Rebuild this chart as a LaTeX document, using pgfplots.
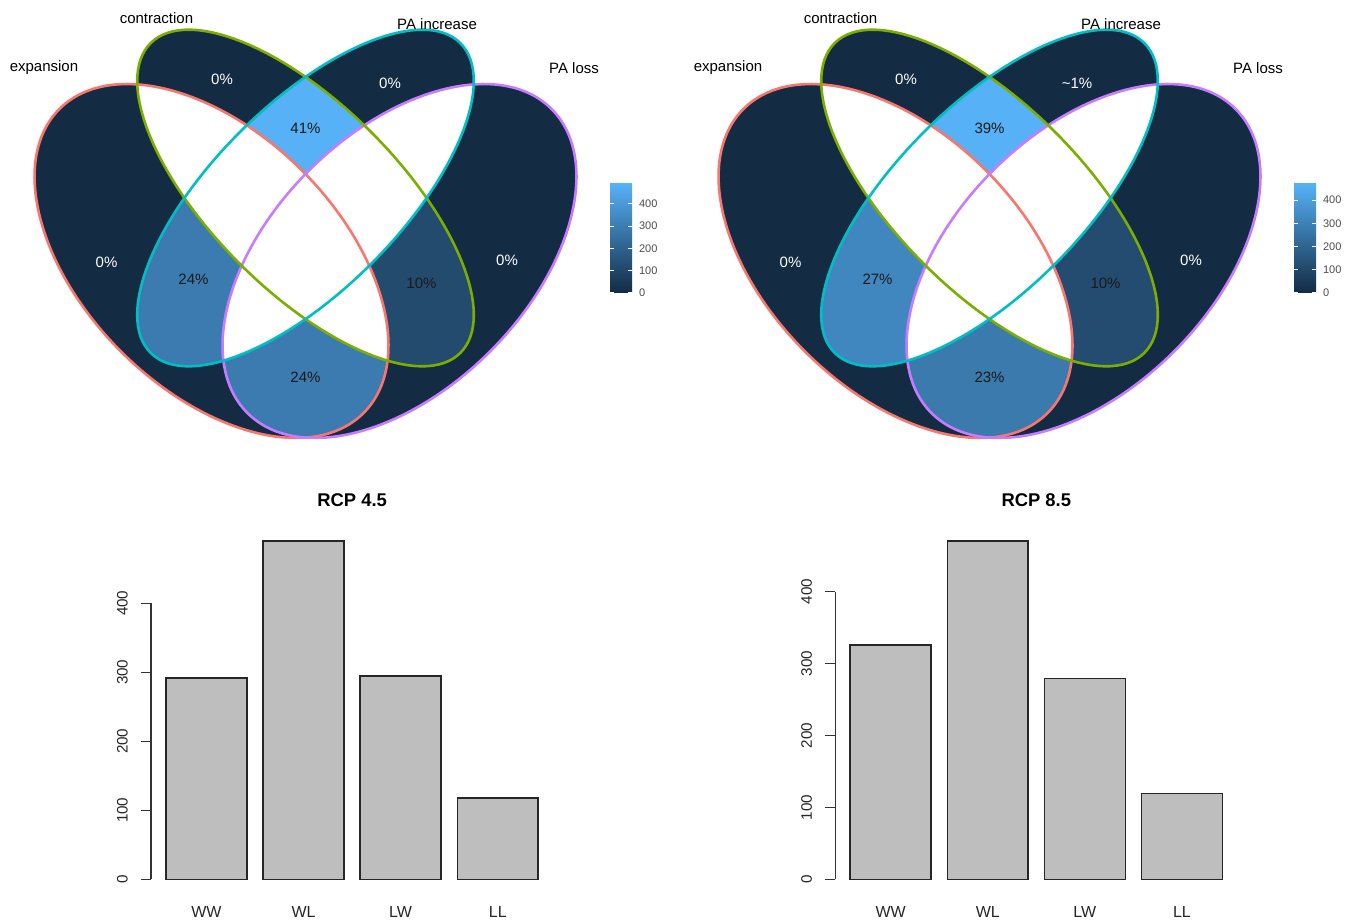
\documentclass[border=0pt]{standalone}
\usepackage{fontspec}
\setmainfont{Liberation Sans}
\usepackage{pgfplots}
\pgfplotsset{compat=1.18}
\usepackage{pgfplotstable}

\definecolor{vlow}{HTML}{132B43}
\definecolor{vhigh}{HTML}{56B1F7}
\definecolor{cexp}{HTML}{F8766D}
\definecolor{ccon}{HTML}{7CAE00}
\definecolor{cinc}{HTML}{00BFC4}
\definecolor{closs}{HTML}{C77CFF}
\definecolor{bargray}{HTML}{BEBEBE}
\definecolor{txt}{HTML}{1A1A1A}

% counts of the four combined categories (RCP 4.5 and RCP 8.5)
\pgfplotstableread{
x cat y
0.7 WW 292
1.9 WL 490
3.1 LW 295
4.3 LL 118
}\rcpA
\pgfplotstableread{
x cat y
0.7 WW 326
1.9 WL 470
3.1 LW 279
4.3 LL 119
}\rcpB

% region colours: count / maximum on the ggplot gradient
\colorlet{LWW}{vhigh!60!vlow}  % 292/490
\colorlet{LWL}{vhigh!100!vlow} % 490/490
\colorlet{LLW}{vhigh!60!vlow}  % 295/490
\colorlet{LLL}{vhigh!24!vlow}  % 118/490
\colorlet{RWW}{vhigh!69!vlow}  % 326/470
\colorlet{RWL}{vhigh!100!vlow} % 470/470
\colorlet{RLW}{vhigh!59!vlow}  % 279/470
\colorlet{RLL}{vhigh!25!vlow}  % 119/470

% ellipses (pixel coordinates of the canvas axis)
\newcommand\EA[1]{[rotate around={-45:(#1,261)}] (#1,261) ellipse [x radius=107.5pt, y radius=64pt]}
\newcommand\ED[1]{[rotate around={45:(#1,261)}] (#1,261) ellipse [x radius=107.5pt, y radius=64pt]}
\newcommand\EB[1]{[rotate around={-45:(#1,198)}] (#1,198) ellipse [x radius=109.5pt, y radius=46.5pt]}
\newcommand\EC[1]{[rotate around={45:(#1,198)}] (#1,198) ellipse [x radius=109.5pt, y radius=46.5pt]}

\newcommand\vl{\fontsize{7.5pt}{9pt}\selectfont}

\pgfplotsset{
  rbar/.style={
    scale only axis, width=201pt, height=182.55pt,
    xmin=0.016, xmax=4.984,
    axis line style={draw=none},
    xtick={0.7,1.9,3.1,4.3}, xticklabels={WW,WL,LW,LL},
    xtick style={draw=none},
    xticklabel style={font=\fontsize{8pt}{9pt}\selectfont, text=black!85, anchor=base, yshift=-7.4pt},
    ytick={0,100,200,300,400},
    ytick pos=left, xtick pos=bottom,
    tick align=outside, major tick length=5pt,
    ytick style={black!80, line width=0.75pt},
    yticklabel style={font=\fontsize{7.6pt}{9pt}\selectfont, text=black!85, rotate=90, anchor=south, inner sep=0pt, yshift=6.5pt},
    /pgf/number format/assume math mode=true,
    title style={font=\bfseries\fontsize{9.2pt}{11pt}\selectfont, at={(0.5,1)}, anchor=base, yshift=4.6pt},
    clip=false,
  },
  cbar/.style={
    scale only axis, width=11pt, height=54.35pt,
    xmin=0, xmax=1, ymin=0,
    axis line style={draw=none}, xtick=\empty,
    ytick={0,100,200,300,400}, ytick pos=both, yticklabel pos=right,
    tick align=inside, major tick length=2.2pt,
    ytick style={white, line width=0.5pt},
    yticklabel style={font=\fontsize{5.5pt}{6.5pt}\selectfont, text=black!70},
    /pgf/number format/assume math mode=true,
    axis on top,
  },
}

\begin{document}
\begin{tikzpicture}
\useasboundingbox (0,0) rectangle (677pt,460.5pt);

% ---------------- Venn canvas (pixel coordinates) ----------------
\begin{axis}[at={(338.5pt,230.25pt)}, anchor=center, scale only axis,
  width=677pt, height=460.5pt, xmin=0, xmax=1354, ymin=0, ymax=921,
  y dir=reverse, hide axis, clip=false]

% ===== left Venn (RCP 4.5) =====
\fill[vlow] \EA{211.5}; \fill[vlow] \ED{399.5}; \fill[vlow] \EB{305.5}; \fill[vlow] \EC{305.5};
\begin{scope}\clip \EA{211.5}; \fill[LWW] \EC{305.5}; \fill[LLW] \ED{399.5};\end{scope}
\begin{scope}\clip \EB{305.5}; \fill[LWL] \EC{305.5}; \fill[LLL] \ED{399.5};\end{scope}
\begin{scope}\clip \EA{211.5}; \fill[white] \EB{305.5};\end{scope}
\begin{scope}\clip \EC{305.5}; \fill[white] \ED{399.5};\end{scope}
\draw[cexp, line width=1.3pt] \EA{211.5};
\draw[closs, line width=1.3pt] \ED{399.5};
\draw[ccon, line width=1.3pt] \EB{305.5};
\draw[cinc, line width=1.3pt] \EC{305.5};
\node[font=\vl] at (44,68) {expansion};
\node[font=\vl] at (156.5,18) {contraction};
\node[font=\vl] at (437,24) {PA increase};
\node[font=\vl] at (574,68) {PA loss};
\node[font=\vl, white] at (106.5,262) {0\%};
\node[font=\vl, white] at (222,79) {0\%};
\node[font=\vl, white] at (390,83) {0\%};
\node[font=\vl, white] at (507,260) {0\%};
\node[font=\vl, txt] at (305.5,128) {41\%};
\node[font=\vl, txt] at (193.5,279) {24\%};
\node[font=\vl, txt] at (421.5,283) {10\%};
\node[font=\vl, txt] at (305.5,377) {24\%};

% ===== right Venn (RCP 8.5) =====
\fill[vlow] \EA{895.5}; \fill[vlow] \ED{1083.5}; \fill[vlow] \EB{989.5}; \fill[vlow] \EC{989.5};
\begin{scope}\clip \EA{895.5}; \fill[RWW] \EC{989.5}; \fill[RLW] \ED{1083.5};\end{scope}
\begin{scope}\clip \EB{989.5}; \fill[RWL] \EC{989.5}; \fill[RLL] \ED{1083.5};\end{scope}
\begin{scope}\clip \EA{895.5}; \fill[white] \EB{989.5};\end{scope}
\begin{scope}\clip \EC{989.5}; \fill[white] \ED{1083.5};\end{scope}
\draw[cexp, line width=1.3pt] \EA{895.5};
\draw[closs, line width=1.3pt] \ED{1083.5};
\draw[ccon, line width=1.3pt] \EB{989.5};
\draw[cinc, line width=1.3pt] \EC{989.5};
\node[font=\vl] at (728,68) {expansion};
\node[font=\vl] at (840.5,18) {contraction};
\node[font=\vl] at (1121,24) {PA increase};
\node[font=\vl] at (1258,68) {PA loss};
\node[font=\vl, white] at (790.5,262) {0\%};
\node[font=\vl, white] at (906,79) {0\%};
\node[font=\vl, white] at (1077,83) {\textasciitilde1\%};
\node[font=\vl, white] at (1191,260) {0\%};
\node[font=\vl, txt] at (989.5,128) {39\%};
\node[font=\vl, txt] at (877.5,279) {27\%};
\node[font=\vl, txt] at (1105.5,283) {10\%};
\node[font=\vl, txt] at (989.5,377) {23\%};
\end{axis}

% ---------------- colour bars ----------------
\begin{axis}[cbar, ymax=490, at={(305pt,314.15pt)}, anchor=south west]
\fill[bottom color=vlow, top color=vhigh] (0,0) rectangle (1,490);
\end{axis}
\begin{axis}[cbar, ymax=470, at={(647pt,314.15pt)}, anchor=south west]
\fill[bottom color=vlow, top color=vhigh] (0,0) rectangle (1,470);
\end{axis}

% ---------------- bar charts ----------------
\begin{axis}[rbar, ymin=-19.6, ymax=509.6, title={RCP 4.5},
  at={(75.55pt,14.1pt)}, anchor=south west]
\addplot[ybar, bar width=1, fill=bargray, draw=black!85, line width=0.75pt] table[x=x,y=y]{\rcpA};
\draw[black!80, line width=0.75pt] (0.016,0) -- (0.016,400);
\end{axis}
\begin{axis}[rbar, ymin=-18.8, ymax=488.8, title={RCP 8.5},
  at={(417.65pt,14.1pt)}, anchor=south west]
\addplot[ybar, bar width=1, fill=bargray, draw=black!85, line width=0.75pt] table[x=x,y=y]{\rcpB};
\draw[black!80, line width=0.75pt] (0.016,0) -- (0.016,400);
\end{axis}
\end{tikzpicture}
\end{document}
